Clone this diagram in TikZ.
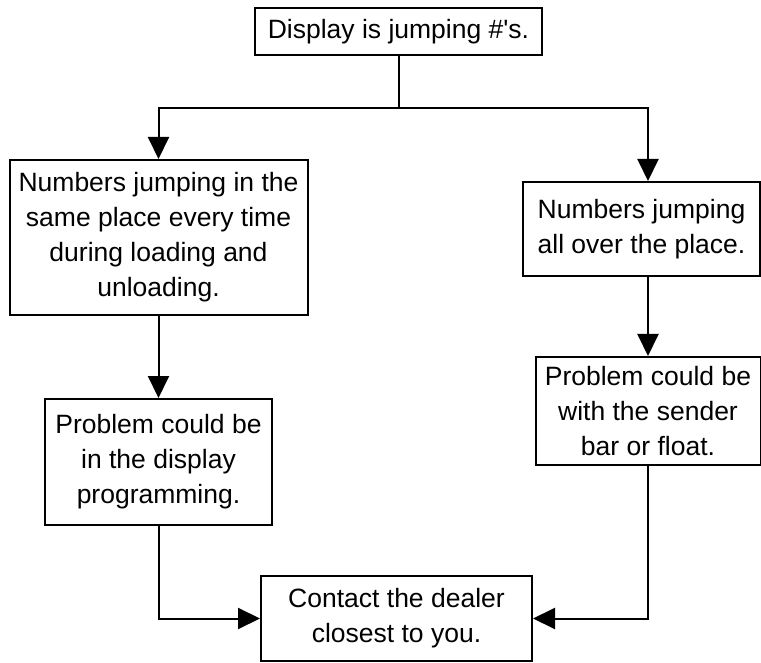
\documentclass[tikz,border=0pt]{standalone}
\usepackage{fontspec}
\setmainfont{Liberation Sans}
\usetikzlibrary{arrows.meta}

\begin{document}
\begin{tikzpicture}[x=1pt, y=-1pt,
    box/.style = {draw, line width=2pt, inner sep=0pt, align=center,
      font=\fontsize{26.5}{35}\selectfont},
    flow/.style = {line width=2pt, -{Triangle[length=22pt,width=21pt]}}
  ]
  \useasboundingbox (0,0) rectangle (761,663);
  \node[box, minimum width=287, minimum height=47] (start) at (398.5,31.5)
    {Display is jumping \#\textquotesingle s.};
  \node[box, minimum width=298, minimum height=155] (same) at (158.5,237.5)
    {Numbers jumping in the\\ same place every time\\ during loading and\\ unloading.};
  \node[box, minimum width=237, minimum height=94] (over) at (641.5,229)
    {Numbers jumping\\ all over the place.};
  \node[box, minimum width=227, minimum height=126] (display) at (158.5,462)
    {Problem could be\\ in the display\\ programming.};
  \node[box, minimum width=225, minimum height=108] (sender) at (648,411)
    {Problem could be\\ with the sender\\ bar or float.};
  \node[box, minimum width=271, minimum height=85] (dealer) at (396.5,618.5)
    {Contact the dealer\\ closest to you.};
  % split below the first box
  \draw[line width=2pt] (start.south) -- ++(0,52) coordinate (fork);
  \draw[flow] (fork) -| (same.north);
  \draw[flow] (fork) -| (sender.north |- over.north);
  \draw[flow] (same.south) -- (display.north);
  \draw[flow] (over.south -| sender.north) -- (sender.north);
  % both ways end at the dealer
  \draw[flow] (display.south) |- (dealer.west);
  \draw[flow] (sender.south) |- (dealer.east);
\end{tikzpicture}
\end{document}
